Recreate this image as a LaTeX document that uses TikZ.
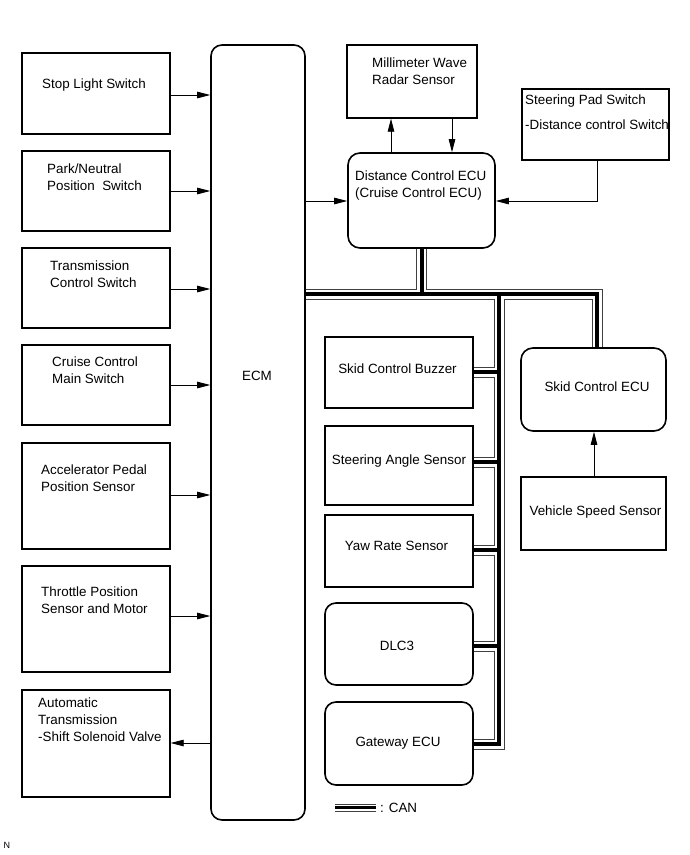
\documentclass[tikz,border=0pt]{standalone}
\usepackage{fontspec}
\setmainfont{Liberation Sans}
\usetikzlibrary{arrows.meta}
\newcommand\canbuslines[1]{%
  \draw[#1] (dcecu.south) -- (dcecu.south |- yh);
  \draw[#1] (ECM.east |- yh) -- (xsk |- yh) -- (xsk |- skid.north);
  \draw[#1] (xbus |- yh) -- (xbus |- ygw) -- (gw.east |- ygw);
  \draw[#1] (xbus |- ybz) -- (buzz.east |- ybz);
  \draw[#1] (xbus |- ysa) -- (sas.east |- ysa);
  \draw[#1] (xbus |- yyr) -- (yaw.east |- yyr);
  \draw[#1] (xbus |- ydl) -- (dlc.east |- ydl);
}
\begin{document}
\begin{tikzpicture}[x=1pt,y=-1pt,
  box/.style={draw, line width=1.3pt, inner sep=0pt},
  rbox/.style={draw, line width=1.6pt, rounded corners=11pt, inner sep=0pt},
  txt/.style={font=\fontsize{13.4}{16.8}\selectfont, align=left, inner sep=0pt, anchor=west},
  ctxt/.style={font=\fontsize{13.4}{16.8}\selectfont, align=center, inner sep=0pt},
  arr/.style={line width=0.8pt, -{Triangle[length=13pt,width=6.5pt]}},
  canA/.style={line width=11pt, black!75},
  canB/.style={line width=9pt, white},
  canC/.style={line width=4pt, black}
]
\useasboundingbox[fill=white] (0,0) rectangle (690,855);

% left column
\node[box, minimum width=148pt, minimum height=81pt] (stop) at (96,93.5) {};
\node[box, minimum width=148pt, minimum height=80pt] (park) at (96,191) {};
\node[box, minimum width=148pt, minimum height=80pt] (trans) at (96,288) {};
\node[box, minimum width=148pt, minimum height=80pt] (cruise) at (96,385) {};
\node[box, minimum width=148pt, minimum height=106pt] (accel) at (96,496) {};
\node[box, minimum width=148pt, minimum height=106pt] (thr) at (96,619) {};
\node[box, minimum width=148pt, minimum height=107pt] (at) at (96,743.5) {};

\node[txt] (stopT) at (42,85) {Stop Light Switch};
\node[txt] (parkT) at (47,177.5) {Park/Neutral\\Position~ Switch};
\node[txt] (transT) at (50,274) {Transmission\\Control Switch};
\node[txt] (cruiseT) at (52,370.5) {Cruise Control\\Main Switch};
\node[txt] (accelT) at (41,478) {Accelerator Pedal\\Position Sensor};
\node[txt] (thrT) at (41,600.5) {Throttle Position\\Sensor and Motor};
\node[txt] (atT) at (38,720) {Automatic\\Transmission\\-Shift Solenoid Valve};

% ECM
\node[rbox, minimum width=94pt, minimum height=775pt] (ECM) at (258,432.5) {};
\node[ctxt] (ECMT) at (257,376) {ECM};

% upper right
\node[box, minimum width=130pt, minimum height=73pt] (radar) at (412,81.5) {};
\node[txt] (radarT) at (372,71) {Millimeter Wave\\Radar Sensor};
\node[rbox, rounded corners=12pt, minimum width=147pt, minimum height=95pt] (dcecu) at (421.5,200.5) {};
\node[txt] (dcecuT) at (355,185.5) {Distance Control ECU\\(Cruise Control ECU)};
\node[box, minimum width=147pt, minimum height=71pt] (pad) at (595.5,124.5) {};
\node[txt] (padT) at (525,112.5) {Steering Pad Switch\\[8pt]-Distance control Switch};

% middle column
\node[box, minimum width=148pt, minimum height=71pt] (buzz) at (399,372.5) {};
\node[box, minimum width=148pt, minimum height=79pt] (sas) at (399,465.5) {};
\node[box, minimum width=148pt, minimum height=72pt] (yaw) at (399,551) {};
\node[rbox, minimum width=148pt, minimum height=82pt] (dlc) at (399,644) {};
\node[rbox, minimum width=148pt, minimum height=83pt] (gw) at (399,743.5) {};
\node[ctxt] (buzzT) at (397.5,369) {Skid Control Buzzer};
\node[ctxt] (sasT) at (399,461) {Steering Angle Sensor};
\node[ctxt] (yawT) at (396.5,546) {Yaw Rate Sensor};
\node[ctxt] (dlcT) at (397,646) {DLC3};
\node[ctxt] (gwT) at (398,743) {Gateway ECU};

% right column
\node[rbox, rounded corners=12pt, minimum width=145pt, minimum height=83pt] (skid) at (593.5,389.5) {};
\node[ctxt] (skidT) at (597,387) {Skid Control ECU};
\node[box, minimum width=145pt, minimum height=73pt] (vss) at (593.5,513.5) {};
\node[ctxt] (vssT) at (595.5,512) {Vehicle Speed Sensor};

% helper coordinates
\coordinate (xbus) at (499,0);
\coordinate (xsk) at (597,0);
\coordinate (yh) at (0,294);
\coordinate (ybz) at (0,372);
\coordinate (ysa) at (0,462);
\coordinate (yyr) at (0,550);
\coordinate (ydl) at (0,646);
\coordinate (ygw) at (0,744);

% CAN bus
\canbuslines{canA}
\canbuslines{canB}
\canbuslines{canC}

% arrows to ECM
\foreach \n/\y in {stop/95, park/191, trans/289, cruise/385, accel/495, thr/616}{
  \coordinate (yy) at (0,\y);
  \draw[arr] (\n.east |- yy) -- (ECM.west |- yy);
}
\coordinate (yat) at (0,743);
\draw[arr] (ECM.west |- yat) -- (at.east |- yat);

% ECM -> distance ECU
\coordinate (ydc) at (0,201);
\draw[arr] (ECM.east |- ydc) -- (dcecu.west |- ydc);
% steering pad -> distance ECU
\draw[arr] (pad.south -| xsk) -- (xsk |- ydc) -- (dcecu.east |- ydc);
% radar arrows
\coordinate (xup) at (391,0);
\coordinate (xdn) at (452,0);
\draw[arr] (dcecu.north -| xup) -- (radar.south -| xup);
\draw[arr] (radar.south -| xdn) -- (dcecu.north -| xdn);
% vehicle speed -> skid ECU
\coordinate (xvs) at (594,0);
\draw[arr] (vss.north -| xvs) -- (skid.south -| xvs);

% legend
\coordinate (lg1) at (335,807.5);
\coordinate (lg2) at (376,807.5);
\draw[line width=1pt, black!75] ([yshift=3.5pt]lg1) -- ([yshift=3.5pt]lg2);
\draw[line width=3pt] (lg1) -- (lg2);
\draw[line width=1pt, black!75] ([yshift=-3.5pt]lg1) -- ([yshift=-3.5pt]lg2);
\node[txt] (lgT) at (380,808) {: CAN};

\node[font=\fontsize{9}{10}\selectfont, inner sep=0pt] (N) at (7,845) {N};
\end{tikzpicture}
\end{document}
